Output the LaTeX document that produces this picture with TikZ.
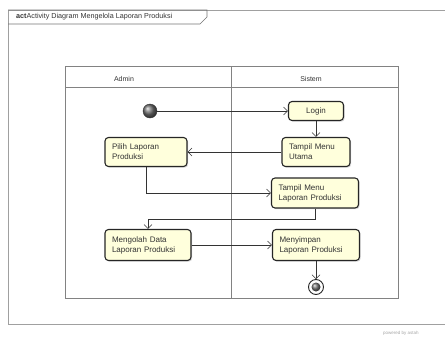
\documentclass[tikz,border=0pt]{standalone}
\usepackage{fontspec}
\setmainfont{Liberation Sans}
\usepackage{xcolor}
\usetikzlibrary{arrows.meta,positioning,calc,shadows}
\definecolor{aksiyellow}{RGB}{255,255,220}
\definecolor{framegray}{RGB}{160,160,160}
\definecolor{lanegray}{RGB}{130,130,130}

\begin{document}
\begin{tikzpicture}[x=1pt,y=-1pt,font=\fontsize{8}{10}\selectfont,
    aksi/.style={draw=black!85, line width=1.1pt, rounded corners=3.5pt, fill=aksiyellow,
        align=left, inner xsep=7pt, inner ysep=2pt, text=black!80,
        drop shadow={shadow xshift=1.2pt, shadow yshift=-1.2pt, opacity=0.3}},
    alur/.style={draw=black!80, line width=0.5pt, -{Straight Barb[length=4pt,width=8pt]}},
    bola/.style={circle, inner sep=0pt, shading=ball, ball color=black!55}]

\useasboundingbox (0,0) rectangle (445,338);

% 바깥 프레임 + 제목 탭
\draw[framegray, line width=0.9pt] (450,10) -- (8,10) -- (8,324) -- (450,324);
\draw[black!55, line width=0.6pt] (8,10) -- (207,10) -- (207,17) -- (200,24) -- (8,24);
\node[anchor=west, inner sep=0pt, text=black!80, font=\fontsize{7.2}{8}\selectfont] (judul) at (16,17)
    {\textbf{act}Activity Diagram Mengelola Laporan Produksi};

% 스윔레인
\draw[lanegray, line width=0.6pt] (65,66) rectangle (398,298);
\draw[lanegray, line width=0.6pt] (65,87) -- (398,87);
\draw[lanegray, line width=0.6pt] (231,66) -- (231,298);
\node[text=black!80, font=\fontsize{7}{8}\selectfont] (admin) at (124,79) {Admin};
\node[text=black!80, font=\fontsize{7}{8}\selectfont] (sistem) at (311,79) {Sistem};

% 노드
\node[bola, draw=black!80, minimum size=14pt] (mulai) at (150,111) {};
\node[aksi, align=center, text width=41pt, minimum height=19pt] (login) at (316,111) {Login};
\node[aksi, text width=54pt, minimum height=29pt] (menuutama) at (316,152) {Tampil Menu\\Utama};
\node[aksi, text width=68pt, minimum height=29pt] (pilih) at (146,152) {Pilih Laporan\\Produksi};
\node[aksi, text width=73pt, minimum height=30pt] (menulaporan) at (315,193) {Tampil Menu\\Laporan Produksi};
\node[aksi, text width=72pt, minimum height=31pt] (mengolah) at (148,245) {Mengolah Data\\Laporan Produksi};
\node[aksi, text width=73pt, minimum height=31pt] (menyimpan) at (316,245) {Menyimpan\\Laporan Produksi};
\node[circle, draw=black!85, line width=0.9pt, fill=white, minimum size=15pt, inner sep=0pt] (selesai) at (316,287) {};
\node[bola, minimum size=9pt] (selesaiisi) at (selesai) {};

% 흐름
\draw[alur] (mulai) -- (login);
\draw[alur] (login) -- (menuutama);
\draw[alur] (menuutama) -- (pilih);
\draw[alur] (pilih.south) |- (menulaporan.west);
\draw[alur] (menulaporan.south) -- ++(0,11) -| (mengolah.north);
\draw[alur] (mengolah) -- (menyimpan);
\draw[alur] (menyimpan) -- (selesai);

\node[anchor=west, inner sep=0pt, text=black!35, font=\fontsize{4.5}{5}\selectfont] (astah) at (383,333) {powered by astah};

\end{tikzpicture}
\end{document}
